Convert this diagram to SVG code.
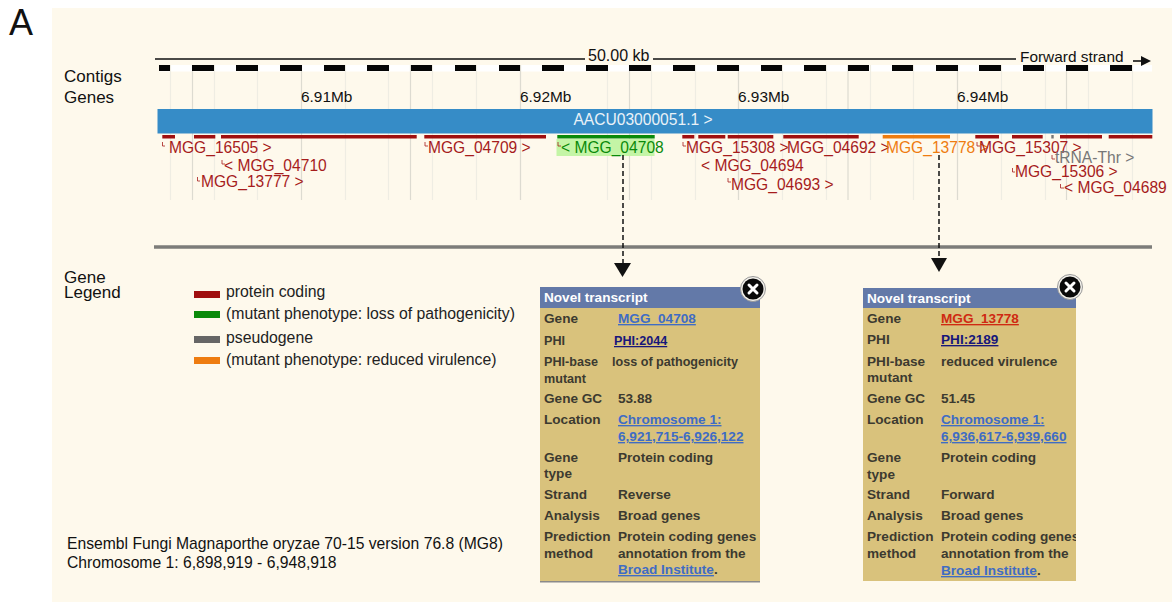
<svg xmlns="http://www.w3.org/2000/svg" width="1172" height="602" viewBox="0 0 1172 602">
<style>
text{font-family:"Liberation Sans",Arial,sans-serif;fill:#111}
.grid{stroke:#efede3;stroke-width:1.2}
.major{stroke:#dddbd1;stroke-width:1.2}
.g{font-size:15.6px;fill:#a61c1c}
.tick{fill:none;stroke:#a61c1c;stroke-width:.8}
.mb{font-size:15.4px}
.lab{font-size:17px}
.lg{font-size:15.8px;fill:#222}
.p{font-size:13.6px;font-weight:700;fill:#3c3a30}
.s{font-size:12.6px}
.lnk{fill:#3f6cc4;text-decoration:underline}
.phi{fill:#17177a;text-decoration:underline}
.red{fill:#cf2a12;text-decoration:underline}
.head{font-size:13.6px;font-weight:700;fill:#fff}
.dash{stroke:#111;stroke-width:1.5;stroke-dasharray:5 3;fill:none}
</style>
<defs>
<g id="closebtn"><circle r="12.5" fill="#f2f0ea" stroke="#999" stroke-width="1"/><circle r="10.5" fill="#0a0a0a"/><path d="M-4 -4L4 4M4 -4L-4 4" stroke="#fff" stroke-width="3" stroke-linecap="round"/></g>
</defs>
<rect x="0" y="0" width="1172" height="602" fill="#fff"/>
<rect x="52" y="8" width="1120" height="594" fill="#fef9ec"/>
<text x="9" y="35" style="font-size:36px">A</text>
<text x="64" y="82" class="lab">Contigs</text>
<text x="64" y="103" class="lab">Genes</text>

<g id="scale">
<rect x="159" y="65" width="993" height="6.500" fill="#fff"/>
<path class="grid" d="M170.500 65V200M214.500 65V200M257.500 65V200M345.500 65V200M388.500 65V200M432.500 65V200M476.500 65V200M520.500 65V200M607.500 65V200M651.500 65V200M695.500 65V200M738.500 65V200M782.500 65V200M826.500 65V200M870.500 65V200M913.500 65V200M957.500 65V200M1001.500 65V200M1045.500 65V200M1088.500 65V200M1132.500 65V200"/>
<path class="major" d="M192.500 65V200M301.500 65V200M410.500 65V200M520.500 65V200M629.500 65V200M738.500 65V200M848 65V200M957.500 65V200M1066.500 65V200"/>
<g fill="#050505">
<rect x="159" y="65" width="11" height="6"/><rect x="192" y="65" width="22" height="6"/><rect x="236" y="65" width="22" height="6"/><rect x="280" y="65" width="22" height="6"/><rect x="324" y="65" width="21" height="6"/><rect x="367" y="65" width="22" height="6"/><rect x="411" y="65" width="21" height="6"/><rect x="455" y="65" width="21" height="6"/><rect x="499" y="65" width="21" height="6"/><rect x="542" y="65" width="22" height="6"/><rect x="586" y="65" width="22" height="6"/><rect x="629" y="65" width="22" height="6"/><rect x="673" y="65" width="22" height="6"/><rect x="717" y="65" width="22" height="6"/><rect x="761" y="65" width="21" height="6"/><rect x="804" y="65" width="22" height="6"/><rect x="848" y="65" width="21" height="6"/><rect x="892" y="65" width="21" height="6"/><rect x="936" y="65" width="22" height="6"/><rect x="979" y="65" width="22" height="6"/><rect x="1023" y="65" width="21" height="6"/><rect x="1066" y="65" width="22" height="6"/><rect x="1110" y="65" width="22" height="6"/>
</g>
<path d="M155 59H585M653 59H1016" stroke="#111" stroke-width="1.600" fill="none"/>
<path d="M1133 61H1143" stroke="#111" stroke-width="1.600"/><path d="M1141 56L1151 61L1141 66Z" fill="#111"/>
<text x="588" y="61" style="font-size:16px">50.00 kb</text>
<text x="1020" y="62" class="mb">Forward strand</text>
<text x="301" y="102" class="mb">6.91Mb</text>
<text x="520" y="102" class="mb">6.92Mb</text>
<text x="738" y="102" class="mb">6.93Mb</text>
<text x="957" y="102" class="mb">6.94Mb</text>
</g>

<g id="contig">
<rect x="157.500" y="109" width="995" height="24.500" fill="#368cc7"/>
<text x="643" y="125" text-anchor="middle" style="font-size:15.6px;fill:#e9f2f8">AACU03000051.1 &gt;</text>
</g>

<g id="gene-bars">
<g fill="#a00f0f">
<rect x="162.300" y="135" width="12.700" height="3.500"/><rect x="194" y="135" width="21.300" height="3.500"/><rect x="221" y="135" width="195.700" height="3.500"/><rect x="424.300" y="135" width="121.700" height="3.500"/><rect x="682.300" y="135" width="12" height="3.500"/><rect x="698.300" y="135" width="27" height="3.500"/><rect x="727.700" y="135" width="45.600" height="3.500"/><rect x="783.300" y="135" width="75.400" height="3.500"/><rect x="975.300" y="135" width="23.700" height="3.500"/><rect x="1012" y="135" width="30.700" height="3.500"/><rect x="1060" y="135" width="42" height="3.500"/><rect x="1108.700" y="135" width="43.600" height="3.500"/>
</g>
<rect x="1051.300" y="135" width="2.400" height="3.500" fill="#777"/>
<rect x="557.300" y="135" width="97.400" height="3.500" fill="#0a8a0a"/>
<rect x="882.700" y="135" width="67.300" height="3.500" fill="#ee7c10"/>
</g>

<g id="gene-labels">
<rect x="556.500" y="139" width="98" height="17" fill="#c4f5a6"/>
<path class="tick" d="M162.500 142V146H165M425 142V146H428M222 160V164H225M197.500 177V181H200M558 142V146H561M683 142V146H686M728 178V182H731M1012.500 168V172H1015M1060.500 184V188H1064M977 142V146H980M1052 155V159H1055"/>
<text x="169" y="153" class="g">MGG_16505 &gt;</text>
<text x="224" y="171" class="g">&lt; MGG_04710</text>
<text x="201" y="187" class="g">MGG_13777 &gt;</text>
<text x="428" y="153" class="g">MGG_04709 &gt;</text>
<text x="561" y="153" class="g" style="fill:#0a8a0a">&lt; MGG_04708</text>
<text x="686" y="153" class="g">MGG_15308 &gt;</text>
<text x="701" y="171" class="g">&lt; MGG_04694</text>
<text x="731" y="190" class="g">MGG_04693 &gt;</text>
<text x="787" y="153" class="g">MGG_04692 &gt;</text>
<text x="886" y="153" class="g" style="fill:#ee7c10">MGG_13778 &gt;</text>
<text x="979" y="153" class="g">MGG_15307 &gt;</text>
<text x="1055" y="163" style="font-size:15.6px;fill:#777">tRNA-Thr &gt;</text>
<text x="1015" y="177" class="g">MGG_15306 &gt;</text>
<text x="1064" y="193" class="g">&lt; MGG_04689</text>
</g>

<path d="M154 247H1152" stroke="#7d7d7a" stroke-width="3.500" fill="none"/>

<g id="connectors">
<path class="dash" d="M623 155V264"/><path d="M614 263H631L622.500 277Z" fill="#111"/>
<path class="dash" d="M939 155V259"/><path d="M931 258H947L939 272Z" fill="#111"/>
</g>

<g id="legend">
<text x="64" y="283" class="lab">Gene</text>
<text x="64" y="298" class="lab">Legend</text>
<rect x="194" y="291" width="26" height="7" fill="#a00f0f"/>
<rect x="194" y="311" width="26" height="7" fill="#0a8a0a"/>
<rect x="194" y="336" width="26" height="7" fill="#666"/>
<rect x="194" y="357" width="26" height="7" fill="#ee7c10"/>
<text x="226" y="297" class="lg">protein coding</text>
<text x="226" y="319" class="lg">(mutant phenotype: loss of pathogenicity)</text>
<text x="226" y="343" class="lg">pseudogene</text>
<text x="226" y="365" class="lg">(mutant phenotype: reduced virulence)</text>
</g>

<g id="popup-1">
<rect x="540" y="287" width="220" height="294" fill="#d9c27c"/>
<rect x="540" y="581" width="220" height="1.500" fill="#8a8a8a"/>
<rect x="540" y="287" width="220" height="21" fill="#6379a8"/>
<text x="544" y="302" class="head">Novel transcript</text>
<use href="#closebtn" x="753" y="289"/>
<text x="544" y="323" class="p">Gene</text><text x="618" y="323" class="p lnk">MGG_04708</text>
<text x="544" y="345" class="p s">PHI</text><text x="614" y="345" class="p phi s">PHI:2044</text>
<text x="544" y="366" class="p s">PHI-base</text><text x="612" y="366" class="p s">loss of pathogenicity</text>
<text x="544" y="383" class="p s">mutant</text>
<text x="544" y="403" class="p">Gene GC</text><text x="618" y="403" class="p">53.88</text>
<text x="544" y="424" class="p">Location</text><text x="618" y="424" class="p lnk">Chromosome 1:</text>
<text x="618" y="441" class="p lnk">6,921,715-6,926,122</text>
<text x="544" y="462" class="p">Gene</text><text x="618" y="462" class="p">Protein coding</text>
<text x="544" y="478" class="p">type</text>
<text x="544" y="499" class="p">Strand</text><text x="618" y="499" class="p">Reverse</text>
<text x="544" y="520" class="p">Analysis</text><text x="618" y="520" class="p">Broad genes</text>
<text x="544" y="541" class="p">Prediction</text><text x="618" y="541" class="p">Protein coding genes</text>
<text x="544" y="558" class="p">method</text><text x="618" y="558" class="p">annotation from the</text>
<text x="618" y="574" class="p"><tspan class="lnk">Broad Institute</tspan>.</text>
</g>

<g id="popup-2">
<rect x="863" y="288" width="213" height="293" fill="#d9c27c"/>
<rect x="863" y="288" width="213" height="20" fill="#6379a8"/>
<text x="867" y="303" class="head">Novel transcript</text>
<use href="#closebtn" x="1070" y="287"/>
<text x="867" y="323" class="p">Gene</text><text x="941" y="323" class="p red">MGG_13778</text>
<text x="867" y="344" class="p">PHI</text><text x="941" y="344" class="p phi">PHI:2189</text>
<text x="867" y="366" class="p">PHI-base</text><text x="941" y="366" class="p">reduced virulence</text>
<text x="867" y="382" class="p">mutant</text>
<text x="867" y="403" class="p">Gene GC</text><text x="941" y="403" class="p">51.45</text>
<text x="867" y="424" class="p">Location</text><text x="941" y="424" class="p lnk">Chromosome 1:</text>
<text x="941" y="441" class="p lnk">6,936,617-6,939,660</text>
<text x="867" y="462" class="p">Gene</text><text x="941" y="462" class="p">Protein coding</text>
<text x="867" y="479" class="p">type</text>
<text x="867" y="499" class="p">Strand</text><text x="941" y="499" class="p">Forward</text>
<text x="867" y="520" class="p">Analysis</text><text x="941" y="520" class="p">Broad genes</text>
<text x="867" y="541" class="p">Prediction</text>
<svg x="941" y="525" width="135" height="22" viewBox="941 525 135 22"><text x="941" y="541" class="p">Protein coding genes</text></svg>
<text x="867" y="558" class="p">method</text><text x="941" y="558" class="p">annotation from the</text>
<text x="941" y="575" class="p"><tspan class="lnk">Broad Institute</tspan>.</text>
</g>

<text x="67" y="549" style="font-size:15.7px">Ensembl Fungi Magnaporthe oryzae 70-15 version 76.8 (MG8)</text>
<text x="67" y="568" style="font-size:15.7px">Chromosome 1: 6,898,919 - 6,948,918</text>
</svg>
